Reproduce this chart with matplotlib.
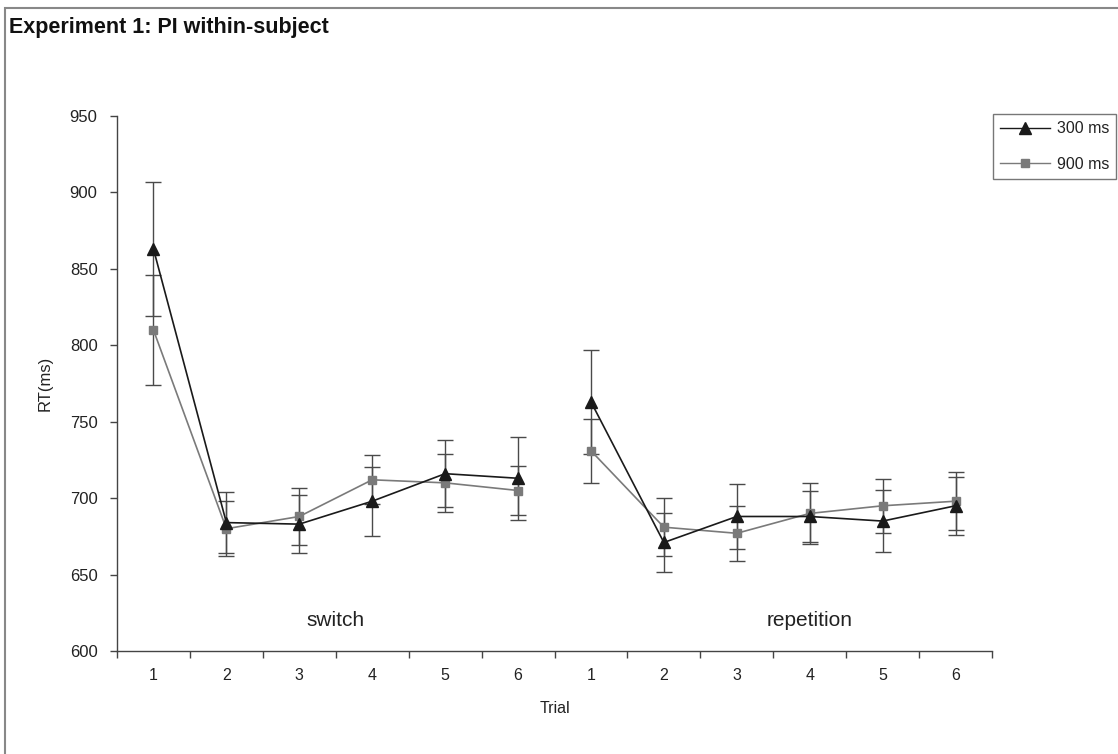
import matplotlib
matplotlib.use("Agg")
import matplotlib.pyplot as plt
from matplotlib.patches import Rectangle
from matplotlib.lines import Line2D

plt.rcParams['font.family'] = ['Liberation Sans', 'DejaVu Sans']

# Data
trials = ["1", "2", "3", "4", "5", "6"]
blocks = ["switch", "repetition"]
rt_300_switch = [863, 684, 683, 698, 716, 713]
err_300_switch = [44, 20, 19, 22.5, 22, 27]
rt_900_switch = [810, 680, 688, 712, 710, 705]
err_900_switch = [36, 18, 18.5, 16, 19, 16]
rt_300_rep = [763, 671, 688, 688, 685, 695]
err_300_rep = [34, 19, 21, 16.5, 20.5, 19]
rt_900_rep = [731, 681, 677, 690, 695, 698]
err_900_rep = [21, 19, 18, 20, 17.5, 19]
yticks = [600, 650, 700, 750, 800, 850, 900, 950]

W, H = 1118, 754
fig = plt.figure(figsize=(W / 100, H / 100), dpi=100)
ax = fig.add_axes([117 / W, 1 - 651 / H, (992 - 117) / W, (651 - 116) / H])

n = len(trials)
x_sw = list(range(n))
x_rep = list(range(n, 2 * n))

c300 = "#1a1a1a"
c900 = "#7a7a7a"
ecol = "#4a4a4a"
tcol = "#222222"

for xs, ys, es in [(x_sw, rt_900_switch, err_900_switch), (x_rep, rt_900_rep, err_900_rep)]:
    ax.errorbar(xs, ys, yerr=es, fmt='none', ecolor=ecol, elinewidth=1.0, capsize=5.5, capthick=1.0, zorder=2)
    ax.plot(xs, ys, color=c900, lw=1.2, marker='s', ms=6, mfc=c900, mec=c900, zorder=3)
for xs, ys, es in [(x_sw, rt_300_switch, err_300_switch), (x_rep, rt_300_rep, err_300_rep)]:
    ax.errorbar(xs, ys, yerr=es, fmt='none', ecolor=ecol, elinewidth=1.0, capsize=5.5, capthick=1.0, zorder=2)
    ax.plot(xs, ys, color=c300, lw=1.2, marker='^', ms=8.5, mfc=c300, mec=c300, zorder=4)

ax.set_xlim(-0.5, 2 * n - 0.5)
ax.set_ylim(600, 950)
ax.set_yticks(yticks)
ax.set_yticklabels([str(v) for v in yticks], fontsize=12, color=tcol)
ax.set_xticks([i + 0.5 for i in range(-1, 2 * n)])
ax.set_xticklabels([])
ax.set_xticks(list(range(2 * n)), minor=True)
ax.set_xticklabels(trials + trials, minor=True, fontsize=11.5, color=tcol)
ax.tick_params(axis='x', which='major', direction='out', length=5, color="#444444", width=1)
ax.tick_params(axis='x', which='minor', length=0, pad=12)
ax.tick_params(axis='y', direction='out', length=5, color="#444444", width=1, pad=9)
for s in ['top', 'right']:
    ax.spines[s].set_visible(False)
for s in ['left', 'bottom']:
    ax.spines[s].set_color("#444444")
    ax.spines[s].set_linewidth(1.0)

ax.text(2.5, 620, blocks[0], ha='center', va='center', fontsize=15, color=tcol)
ax.text(9.0, 620, blocks[1], ha='center', va='center', fontsize=15, color=tcol)

ax.set_xlabel("Trial", fontsize=11.5, color=tcol, labelpad=13)
ax.set_ylabel("RT(ms)", fontsize=12, color=tcol, labelpad=12)

handles = [Line2D([], [], color=c300, lw=1.0, marker='^', ms=8, mfc=c300, mec=c300),
           Line2D([], [], color=c900, lw=1.0, marker='s', ms=6, mfc=c900, mec=c900)]
leg = fig.legend(handles, ["300 ms", "900 ms"], loc='upper left',
                 bbox_to_anchor=(993 / W, 1 - 114 / H), fontsize=11.5,
                 frameon=True, fancybox=False, edgecolor="#555555",
                 borderpad=0.45, handlelength=3.1, handletextpad=0.45, labelspacing=1.3,
                 borderaxespad=0)
leg.get_frame().set_linewidth(1.0)
for t in leg.get_texts():
    t.set_color(tcol)

fig.text(9 / W, 1 - 28 / H, "Experiment 1: PI within-subject", fontsize=15.5,
         fontweight='bold', ha='left', va='center', color="#111111")

fig.patches.append(Rectangle((5 / W, -0.05), 1.2, 1 - 8 / H + 0.05, transform=fig.transFigure,
                             fill=False, edgecolor="#888888", lw=1.5))

fig.savefig("out.png", dpi=100, facecolor="white")
